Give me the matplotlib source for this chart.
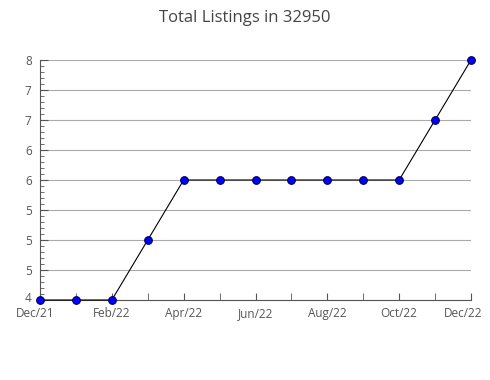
import matplotlib
matplotlib.use("Agg")
import matplotlib.pyplot as plt
import matplotlib.transforms as mtransforms
from matplotlib.ticker import MultipleLocator

plt.rcParams['font.family'] = ['Open Sans', 'DejaVu Sans']

months = ["Dec/21", "Jan/22", "Feb/22", "Mar/22", "Apr/22", "May/22", "Jun/22",
          "Jul/22", "Aug/22", "Sep/22", "Oct/22", "Nov/22", "Dec/22"]
listings = [4, 4, 4, 5, 6, 6, 6, 6, 6, 6, 6, 7, 8]
y_ticks = [4, 4.5, 5, 5.5, 6, 6.5, 7, 7.5, 8]
y_labels = ["4", "5", "5", "5", "6", "6", "7", "7", "8"]

fig = plt.figure(figsize=(4.9, 3.8), dpi=100)
ax = fig.add_axes([40 / 490, 80 / 380, 431 / 490, 240 / 380])

x = list(range(len(months)))
ax.plot(x, listings, color="black", linewidth=0.8,
        marker="o", markersize=5.5, markerfacecolor="#0000ff",
        markeredgecolor="#000055", markeredgewidth=0.8, zorder=3, clip_on=False)

ax.set_xlim(0, len(months) - 1)
ax.set_ylim(4, 8)
ax.set_xticks(x[::2])
ax.set_xticklabels(months[::2])
ax.set_xticks(x, minor=True)
ax.set_yticks(y_ticks)
ax.set_yticklabels(y_labels)
ax.yaxis.set_minor_locator(MultipleLocator(0.1))

ax.grid(axis="y", color="#aaaaaa", linewidth=0.8)
ax.set_axisbelow(True)
for side in ["top", "right"]:
    ax.spines[side].set_visible(False)
for side in ["left", "bottom"]:
    ax.spines[side].set_color("#555555")
    ax.spines[side].set_linewidth(0.8)

ax.tick_params(axis="both", which="both", direction="in", colors="#555555",
               labelcolor="#555555", labelsize=8.5)
ax.tick_params(axis="x", which="both", length=5, pad=5)
ax.tick_params(axis="y", which="major", length=6, pad=6)
ax.tick_params(axis="y", which="minor", length=3)

# nudge the corner labels like the original
def shift(label, dx, dy):
    label.set_transform(label.get_transform() +
                        mtransforms.ScaledTranslation(dx / 100, dy / 100, fig.dpi_scale_trans))

xlabels = ax.get_xticklabels()
shift(xlabels[0], -5, 0)
shift(xlabels[-1], -8, 0)
shift(ax.get_yticklabels()[0], 0, 3)

fig.suptitle("Total Listings in 32950", y=0.975, fontsize=12, color="#444444")

fig.savefig("out.png", dpi=100)
